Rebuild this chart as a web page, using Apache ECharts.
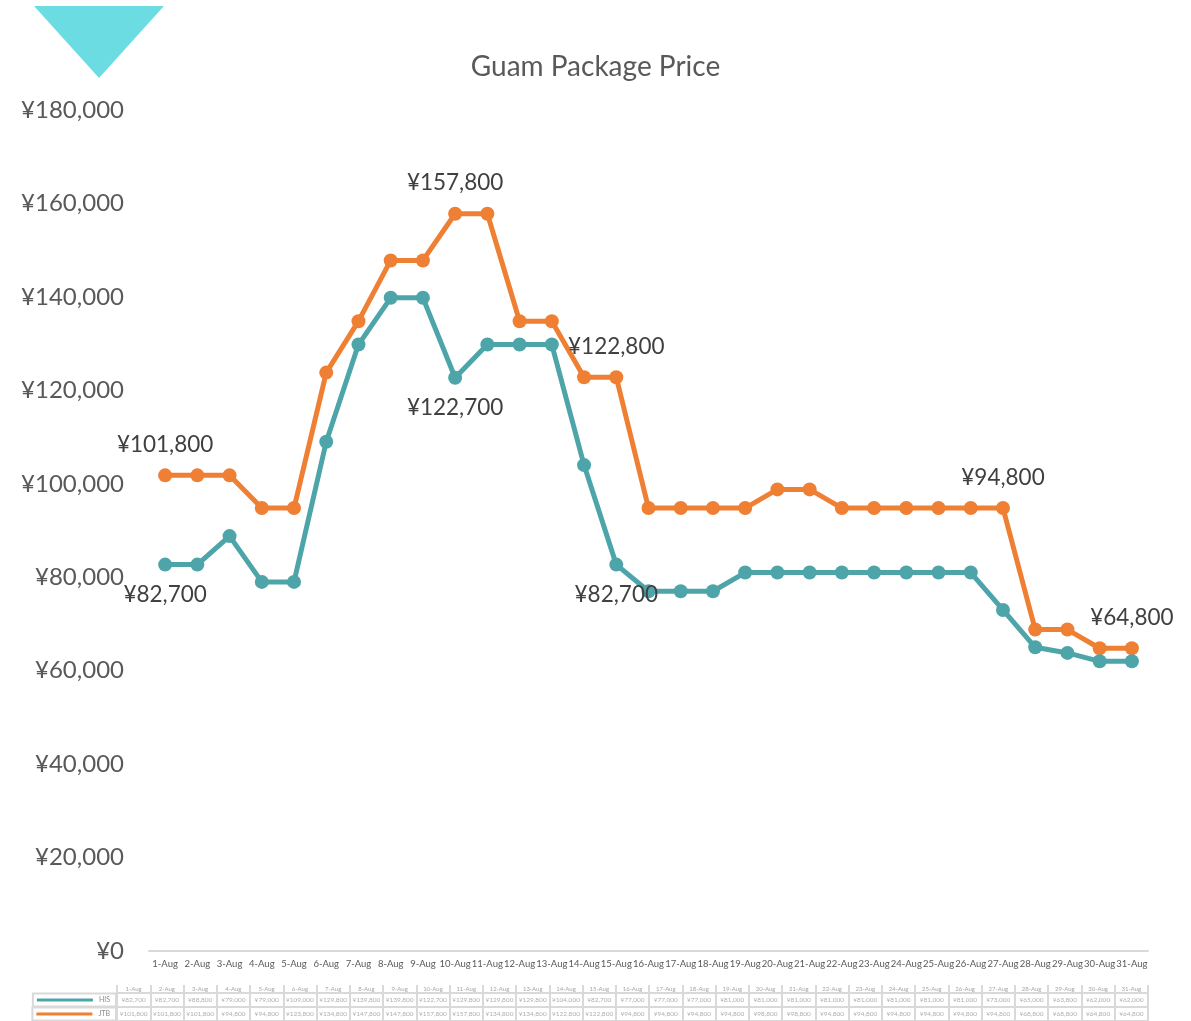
<!DOCTYPE html>
<html>
<head>
<meta charset="utf-8">
<title>Guam Package Price</title>
<script src="https://cdn.jsdelivr.net/npm/echarts@6/dist/echarts.min.js"></script>
<style>
  html, body { margin: 0; padding: 0; background: #fff; }
  #chart { width: 1191px; height: 1021px; }
</style>
</head>
<body>
<div id="chart"></div>
<script>
var days = [];
for (var d = 1; d <= 31; d++) days.push(d + "-Aug");

var hisPrice = [82700, 82700, 88800, 79000, 79000, 109000, 129800, 139800, 139800, 122700,
  129800, 129800, 129800, 104000, 82700, 77000, 77000, 77000, 81000, 81000,
  81000, 81000, 81000, 81000, 81000, 81000, 73000, 65000, 63800, 62000, 62000];
var jtbPrice = [101800, 101800, 101800, 94800, 94800, 123800, 134800, 147800, 147800, 157800,
  157800, 134800, 134800, 122800, 122800, 94800, 94800, 94800, 94800, 98800,
  98800, 94800, 94800, 94800, 94800, 94800, 94800, 68800, 68800, 64800, 64800];

// points that carry a value label
var hisLabelIdx = [0, 9, 14];
var jtbLabelIdx = [0, 9, 14, 26, 30];

var seriesNames = ["HIS", "JTB"];
var colors = ["#4ea5a9", "#ef7f33"];

var FONT = "Lato";

function yen(v) {
  return "¥" + v.toLocaleString("en-US");
}

function withLabels(values, idx, pos) {
  return values.map(function (v, i) {
    if (idx.indexOf(i) < 0) return v;
    return { value: v, label: { show: true, position: pos } };
  });
}

// table cells: [column, row, value]
var tableCells = [];
hisPrice.forEach(function (v, i) { tableCells.push([i, 0, v]); });
jtbPrice.forEach(function (v, i) { tableCells.push([i, 1, v]); });

var chart = echarts.init(document.getElementById("chart"));

var lineLabel = {
  show: false,
  distance: 12,
  fontFamily: FONT,
  fontSize: 22.5,
  color: "#404040",
  formatter: function (p) { return yen(p.value); }
};

chart.setOption({
  animation: false,
  textStyle: { fontFamily: FONT },
  title: {
    text: "Guam Package Price",
    left: "center",
    top: 48,
    textStyle: { fontFamily: FONT, fontSize: 28, fontWeight: "normal", color: "#595959" }
  },
  graphic: [{
    type: "polygon",
    shape: { points: [[34, 6], [164, 6], [99, 78]] },
    style: { fill: "#6bdde2" }
  }],
  grid: [
    { left: 149, right: 43, top: 110, bottom: 70 },
    { left: 117, right: 43, top: 993, height: 30, show: true, borderColor: "#d9d9d9", borderWidth: 2 }
  ],
  xAxis: [{
    type: "category",
    data: days,
    gridIndex: 0,
    axisLine: { lineStyle: { color: "#d9d9d9", width: 2 } },
    axisTick: { show: false },
    axisLabel: { color: "#595959", fontSize: 9.5, margin: 8, interval: 0 }
  }, {
    type: "category",
    data: days,
    gridIndex: 1,
    position: "top",
    axisLine: { lineStyle: { color: "#d9d9d9", width: 2 } },
    axisTick: { show: true, length: 8, lineStyle: { color: "#d9d9d9", width: 2 } },
    axisLabel: { color: "#a6a6a6", fontSize: 6, margin: 1, interval: 0 },
    splitLine: { show: true, lineStyle: { color: "#d9d9d9", width: 2 } }
  }],
  yAxis: [{
    type: "value",
    gridIndex: 0,
    min: 0,
    max: 180000,
    interval: 20000,
    axisLine: { show: false },
    axisTick: { show: false },
    splitLine: { show: false },
    axisLabel: {
      color: "#595959",
      fontSize: 24,
      margin: 25,
      formatter: yen
    }
  }, {
    type: "category",
    data: seriesNames,
    gridIndex: 1,
    inverse: true,
    axisLine: { show: false },
    axisTick: { show: false },
    splitLine: { show: true, lineStyle: { color: "#d9d9d9", width: 2 } },
    axisLabel: {
      interval: 0,
      margin: 1,
      padding: [1, 6, 1, 4],
      borderColor: "#d9d9d9",
      borderWidth: 2,
      align: "right",
      verticalAlign: "middle",
      formatter: function (name, i) {
        return "{k" + i + "|}{n|" + name + "}";
      },
      rich: {
        k0: { width: 56, height: 3, backgroundColor: colors[0], verticalAlign: "middle" },
        k1: { width: 56, height: 3, backgroundColor: colors[1], verticalAlign: "middle" },
        n: { fontSize: 7, lineHeight: 11, color: "#8c8c8c", padding: [0, 0, 0, 6], verticalAlign: "middle" }
      }
    }
  }],
  series: [{
    name: "HIS",
    type: "line",
    data: withLabels(hisPrice, hisLabelIdx, "bottom"),
    color: colors[0],
    lineStyle: { width: 5 },
    symbol: "circle",
    symbolSize: 14,
    label: lineLabel,
    z: 3
  }, {
    name: "JTB",
    type: "line",
    data: withLabels(jtbPrice, jtbLabelIdx, "top"),
    color: colors[1],
    lineStyle: { width: 5 },
    symbol: "circle",
    symbolSize: 14,
    label: lineLabel,
    z: 2
  }, {
    name: "table",
    type: "scatter",
    xAxisIndex: 1,
    yAxisIndex: 1,
    data: tableCells,
    symbolSize: 0,
    silent: true,
    label: {
      show: true,
      position: "inside",
      color: "#9a9a9a",
      fontSize: 6.5,
      formatter: function (p) { return yen(p.value[2]); }
    }
  }]
});
</script>
</body>
</html>
